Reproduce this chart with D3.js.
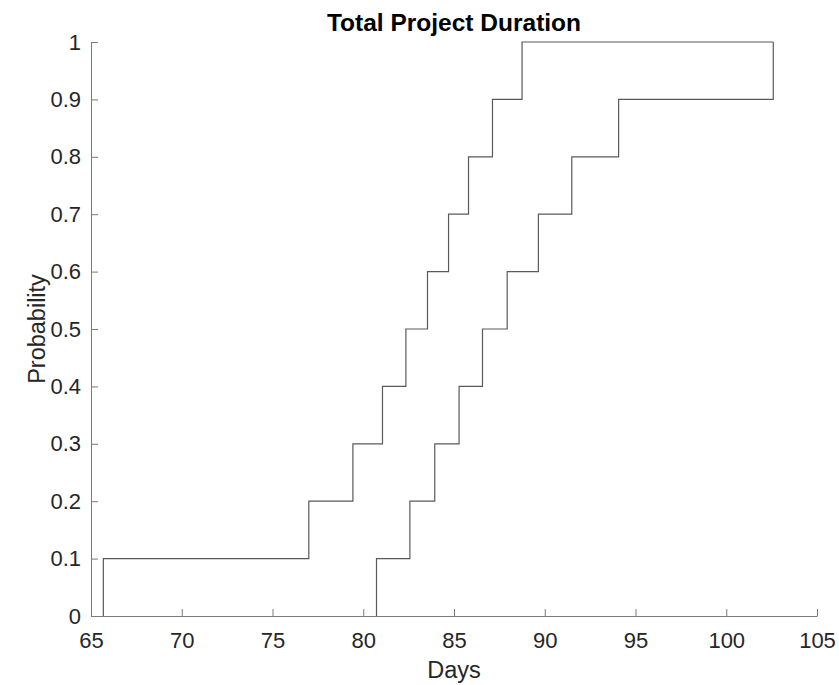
<!DOCTYPE html>
<html>
<head>
<meta charset="utf-8">
<script src="https://cdn.jsdelivr.net/npm/d3@7"></script>
<style>
  body { margin: 0; background: #fff; }
  text { font-family: Arial, "Liberation Sans", Helvetica, sans-serif; }
</style>
</head>
<body>
<div id="chart"></div>
<script>
// durations (days) at which each curve steps up by 0.1
var earlyDays = [65.68, 77.0, 79.43, 81.06, 82.35, 83.54, 84.70, 85.80, 87.12, 88.75];
var lateDays  = [80.73, 82.57, 83.94, 85.28, 86.57, 87.93, 89.65, 91.49, 94.07, 102.59];
var probLevels = [0.1, 0.2, 0.3, 0.4, 0.5, 0.6, 0.7, 0.8, 0.9, 1.0];
var lastDay = 102.59;
var xTicks = [65, 70, 75, 80, 85, 90, 95, 100, 105];
var yTicks = [0, 0.1, 0.2, 0.3, 0.4, 0.5, 0.6, 0.7, 0.8, 0.9, 1];

var width = 839, height = 685;
var margin = {top: 42, right: 22, bottom: 69, left: 91};

var svg = d3.select("#chart")
  .append("svg")
    .attr("width", width)
    .attr("height", height);

var x = d3.scaleLinear()
  .domain([65, 105])
  .range([margin.left, width - margin.right]);

var y = d3.scaleLinear()
  .domain([0, 1])
  .range([height - margin.bottom, margin.top]);

// build step points: start at 0, climb at each duration, run out to the last day
function stepPoints(days) {
  var pts = [[days[0], 0]];
  days.forEach(function(d, i) { pts.push([d, probLevels[i]]); });
  pts.push([lastDay, 1]);
  return pts;
}

var line = d3.line()
  .curve(d3.curveStepAfter)
  .x(function(d) { return x(d[0]); })
  .y(function(d) { return y(d[1]); });

// X axis, ticks pointing in
var gx = svg.append("g")
  .attr("transform", "translate(0," + y(0) + ")")
  .call(d3.axisBottom(x).tickValues(xTicks).tickFormat(d3.format("d"))
    .tickSizeInner(-7).tickSizeOuter(0).tickPadding(16));

// Y axis
var gy = svg.append("g")
  .attr("transform", "translate(" + x(65) + ",0)")
  .call(d3.axisLeft(y).tickValues(yTicks).tickFormat(function(d) { return d3.format("~g")(d); })
    .tickSizeInner(-7).tickSizeOuter(0).tickPadding(10));

[gx, gy].forEach(function(g) {
  g.select(".domain").attr("stroke", "#7a7a7a");
  g.selectAll(".tick line").attr("stroke", "#7a7a7a");
  g.selectAll(".tick text")
    .attr("fill", "#262626")
    .style("font-size", "22px")
    .style("font-family", "Arial, 'Liberation Sans', Helvetica, sans-serif");
});

// the two step curves
[earlyDays, lateDays].forEach(function(days) {
  svg.append("path")
    .datum(stepPoints(days))
    .attr("fill", "none")
    .attr("stroke", "#5a5a5a")
    .attr("stroke-width", 1.2)
    .attr("d", line);
});

// title and labels
svg.append("text")
  .attr("x", (x(65) + x(105)) / 2)
  .attr("y", 31)
  .attr("text-anchor", "middle")
  .style("font-size", "24.5px")
  .style("font-weight", "bold")
  .attr("fill", "#000")
  .text("Total Project Duration");

svg.append("text")
  .attr("x", (x(65) + x(105)) / 2)
  .attr("y", 678)
  .attr("text-anchor", "middle")
  .style("font-size", "23.5px")
  .attr("fill", "#262626")
  .text("Days");

svg.append("text")
  .attr("transform", "translate(45," + (y(0) + y(1)) / 2 + ") rotate(-90)")
  .attr("text-anchor", "middle")
  .style("font-size", "23.5px")
  .attr("fill", "#262626")
  .text("Probability");
</script>
</body>
</html>
